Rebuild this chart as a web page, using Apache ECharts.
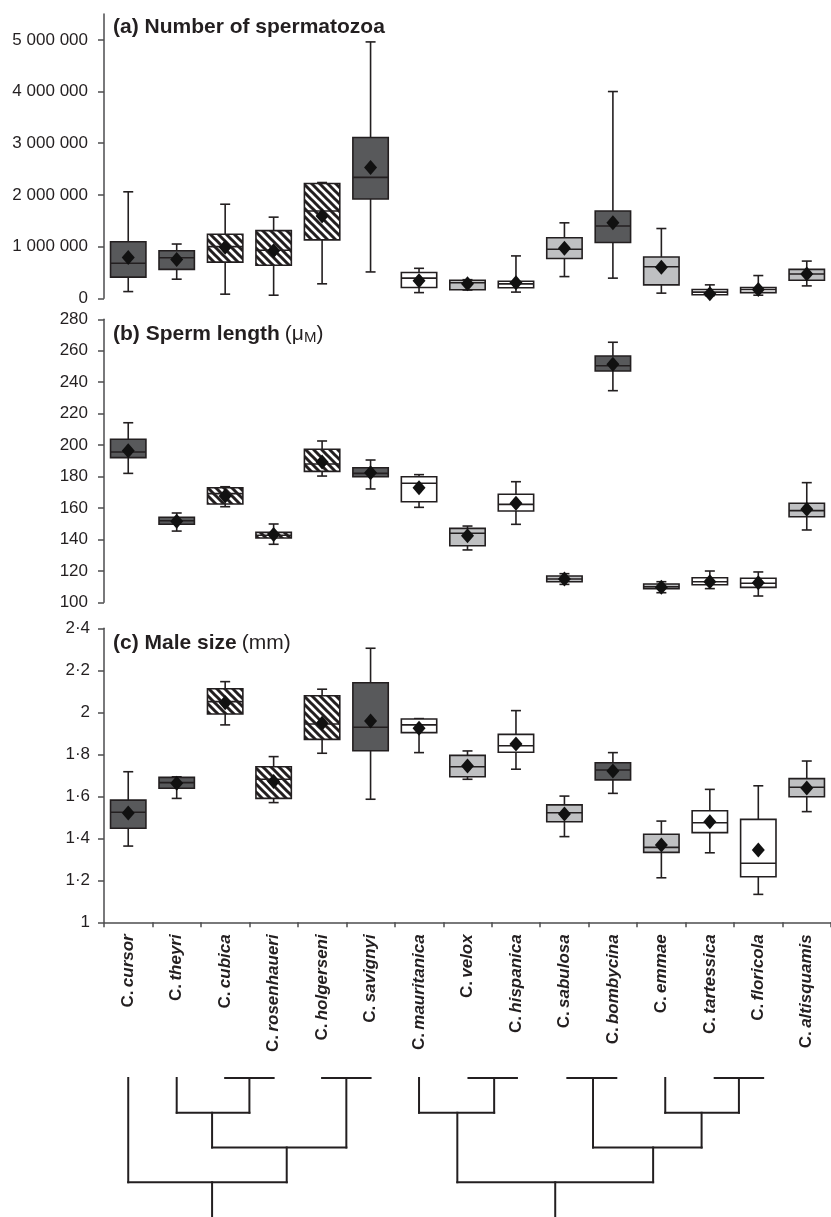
<!DOCTYPE html>
<html>
<head>
<meta charset="utf-8">
<script src="https://cdn.jsdelivr.net/npm/echarts@6/dist/echarts.min.js"></script>
<style>
html,body{margin:0;padding:0;background:#fff;}
#chart{width:831px;height:1217px;}
</style>
</head>
<body>
<div id="chart"></div>
<script>
// ---------- DATA ----------
const species = ['C. cursor','C. theyri','C. cubica','C. rosenhaueri','C. holgerseni','C. savignyi','C. mauritanica','C. velox','C. hispanica','C. sabulosa','C. bombycina','C. emmae','C. tartessica','C. floricola','C. altisquamis'];

// [low whisker, Q1, median, Q3, high whisker]
const spermNumber = [
  [130000, 410000, 677000, 1095000, 2060000],
  [370000, 560000, 785000, 920000, 1050000],
  [80000, 700000, 1000000, 1240000, 1820000],
  [60000, 640000, 930000, 1310000, 1570000],
  [280000, 1130000, 1690000, 2220000, 2240000],
  [510000, 1920000, 2340000, 3110000, 4960000],
  [110000, 210000, 390000, 500000, 580000],
  [160000, 165000, 300000, 350000, 360000],
  [120000, 205000, 280000, 330000, 820000],
  [420000, 770000, 950000, 1170000, 1460000],
  [390000, 1080000, 1400000, 1690000, 4000000],
  [100000, 260000, 610000, 800000, 1350000],
  [50000, 70000, 120000, 170000, 260000],
  [60000, 110000, 170000, 210000, 440000],
  [240000, 350000, 470000, 560000, 720000]
];
const spermNumberMean = [790000, 750000, 990000, 920000, 1590000, 2530000, 340000, 280000, 300000, 970000, 1460000, 600000, 90000, 170000, 470000];

const spermLength = [
  [182.0, 192.0, 195.6, 203.7, 214.2],
  [145.3, 149.6, 151.9, 154.1, 156.8],
  [160.8, 162.5, 169.1, 172.9, 173.5],
  [136.9, 140.9, 142.6, 144.5, 149.8],
  [180.3, 183.3, 188.0, 197.3, 202.6],
  [172.1, 179.9, 182.0, 185.6, 190.5],
  [160.4, 164.0, 175.7, 179.9, 181.2],
  [133.3, 136.0, 143.9, 147.0, 148.5],
  [149.6, 158.1, 162.3, 168.7, 176.7],
  [111.4, 113.1, 114.8, 116.7, 118.2],
  [234.6, 247.1, 250.5, 256.7, 265.4],
  [106.1, 108.7, 109.9, 111.6, 113.1],
  [108.7, 111.2, 113.1, 115.6, 119.9],
  [104.0, 109.5, 112.1, 115.3, 119.3],
  [146.0, 154.4, 158.3, 163.0, 176.1]
];
const spermLengthMean = [196.4, 151.5, 167.6, 143.2, 189.2, 182.4, 172.9, 142.4, 163.0, 114.8, 251.4, 109.5, 113.1, 112.5, 159.2];

const maleSize = [
  [1.363, 1.448, 1.524, 1.582, 1.717],
  [1.590, 1.638, 1.665, 1.690, 1.693],
  [1.940, 1.992, 2.051, 2.112, 2.146],
  [1.570, 1.590, 1.681, 1.741, 1.789],
  [1.805, 1.871, 1.944, 2.079, 2.110],
  [1.586, 1.817, 1.929, 2.141, 2.305],
  [1.808, 1.903, 1.940, 1.968, 1.970],
  [1.681, 1.693, 1.741, 1.795, 1.816],
  [1.729, 1.810, 1.841, 1.895, 2.008],
  [1.408, 1.479, 1.522, 1.559, 1.601],
  [1.614, 1.678, 1.725, 1.760, 1.808],
  [1.212, 1.333, 1.357, 1.419, 1.482],
  [1.331, 1.427, 1.474, 1.531, 1.633],
  [1.133, 1.217, 1.281, 1.490, 1.650],
  [1.527, 1.598, 1.643, 1.684, 1.768]
];
const maleSizeMean = [1.520, 1.662, 2.046, 1.670, 1.948, 1.959, 1.924, 1.744, 1.849, 1.516, 1.720, 1.368, 1.479, 1.344, 1.640];

const tickA = [0, 1000000, 2000000, 3000000, 4000000, 5000000];

// phylogeny segments: [x1 (species index), depth1, x2, depth2]
const treeSegments = [
  [0, 0, 0, 3], [1, 0, 1, 1], [2, 0, 3, 0], [2.5, 0, 2.5, 1], [1, 1, 2.5, 1],
  [1.73, 1, 1.73, 2], [4, 0, 5, 0], [4.5, 0, 4.5, 2], [1.73, 2, 4.5, 2],
  [3.27, 2, 3.27, 3], [0, 3, 3.27, 3], [1.73, 3, 1.73, 4],
  [6, 0, 6, 1], [7.02, 0, 8.02, 0], [7.55, 0, 7.55, 1], [6, 1, 7.55, 1],
  [6.79, 1, 6.79, 3], [9.06, 0, 10.07, 0], [9.59, 0, 9.59, 2],
  [11.08, 0, 11.08, 1], [12.1, 0, 13.1, 0], [12.6, 0, 12.6, 1], [11.08, 1, 12.6, 1],
  [11.83, 1, 11.83, 2], [9.59, 2, 11.83, 2], [10.83, 2, 10.83, 3],
  [6.79, 3, 10.83, 3], [8.81, 3, 8.81, 4]
];

// fill style per species (style mapping)
const fillType = ['dark','dark','hatch','hatch','hatch','dark','white','light','white','light','dark','light','white','white','light'];

// ---------- STYLE ----------
const INK = '#231f20';
const FONT = '"Liberation Sans", Arial, Helvetica, sans-serif';

function makeHatch() {
  const s = 8;
  const c = document.createElement('canvas');
  c.width = s; c.height = s;
  const g = c.getContext('2d');
  g.fillStyle = '#fff'; g.fillRect(0, 0, s, s);
  g.strokeStyle = INK; g.lineWidth = 3; g.lineCap = 'square';
  g.beginPath();
  g.moveTo(-2, -2); g.lineTo(s + 2, s + 2);
  g.moveTo(-2, s - 2); g.lineTo(2, s + 2);
  g.moveTo(s - 2, -2); g.lineTo(s + 2, 2);
  g.stroke();
  return c;
}
const fills = {
  dark: '#58595b',
  light: '#bfc0c2',
  white: '#ffffff',
  hatch: { image: makeHatch(), repeat: 'repeat' }
};

function boxRender(params, api) {
  const i = api.value(0);
  const lo = api.coord([i, api.value(1)]);
  const q1 = api.coord([i, api.value(2)]);
  const md = api.coord([i, api.value(3)]);
  const q3 = api.coord([i, api.value(4)]);
  const hi = api.coord([i, api.value(5)]);
  const bw = api.size([1, 0])[0] * 0.73;
  const cap = 5;
  const x = lo[0];
  const ls = { stroke: INK, lineWidth: 1.6 };
  return {
    type: 'group',
    children: [
      { type: 'line', shape: { x1: x, y1: hi[1], x2: x, y2: q3[1] }, style: ls },
      { type: 'line', shape: { x1: x, y1: q1[1], x2: x, y2: lo[1] }, style: ls },
      { type: 'line', shape: { x1: x - cap, y1: hi[1], x2: x + cap, y2: hi[1] }, style: ls },
      { type: 'line', shape: { x1: x - cap, y1: lo[1], x2: x + cap, y2: lo[1] }, style: ls },
      { type: 'rect', shape: { x: x - bw / 2, y: q3[1], width: bw, height: q1[1] - q3[1] },
        style: { fill: fills[fillType[i]], stroke: INK, lineWidth: 1.6 } },
      { type: 'line', shape: { x1: x - bw / 2, y1: md[1], x2: x + bw / 2, y2: md[1] }, style: ls }
    ]
  };
}

function treeRender(params, api) {
  const p1 = api.coord([api.value(0), api.value(1)]);
  const p2 = api.coord([api.value(2), api.value(3)]);
  return { type: 'line', shape: { x1: p1[0], y1: p1[1], x2: p2[0], y2: p2[1] },
    style: { stroke: INK, lineWidth: 2, lineCap: 'square' } };
}

const boxData = arr => arr.map((r, i) => [i].concat(r));
const meanData = arr => arr.map((v, i) => [i, v]);

const LEFT = 104, WIDTH = 736.5;
const grids = [
  { left: LEFT, width: WIDTH, top: 14, height: 284.3 },
  { left: LEFT, width: WIDTH, top: 319.3, height: 283 },
  { left: LEFT, width: WIDTH, top: 628.3, height: 294 },
  { left: LEFT, width: WIDTH, top: 1078, height: 140 }
];

const axisLineStyle = { show: true, lineStyle: { color: '#4d4d4f', width: 1.5 } };
const yLabel = { color: INK, fontSize: 17, fontFamily: FONT, margin: 16 };
const yTick = { show: true, length: 6, lineStyle: { color: '#4d4d4f', width: 1.5 } };

const fmtA = v => String(Math.round(v)).replace(/\B(?=(\d{3})+(?!\d))/g, ' ');
const fmtC = v => String(+(+v).toFixed(1)).replace('.', '·');

const xHidden = gi => ({ type: 'category', gridIndex: gi, data: species, show: false, boundaryGap: true });

const bold = { fontFamily: FONT, fontSize: 21, fontWeight: 'bold', color: INK };
const normal = { fontFamily: FONT, fontSize: 21, fontWeight: 'normal', color: INK };
const meanStyle = { color: '#111', opacity: 1 };

const option = {
  animation: false,
  backgroundColor: '#fff',
  title: [
    { left: 108, top: 12, text: '{b|(a) Number of spermatozoa}',
      textStyle: { rich: { b: bold } } },
    { left: 108, top: 319, text: '{b|(b) Sperm length} {n|(μ}{s|M}{n|)}',
      textStyle: { fontWeight: 'normal', rich: {
        b: bold, n: normal,
        s: { fontFamily: FONT, fontSize: 15, fontWeight: 'normal', color: INK, verticalAlign: 'bottom' } } } },
    { left: 108, top: 628, text: '{b|(c) Male size} {n|(mm)}',
      textStyle: { fontWeight: 'normal', rich: { b: bold, n: normal } } }
  ],
  grid: grids,
  xAxis: [
    xHidden(0), xHidden(1),
    { type: 'category', gridIndex: 2, data: species, boundaryGap: true,
      axisLine: { show: true, lineStyle: { color: '#4d4d4f', width: 1.5 } },
      axisTick: { show: true, length: 5, lineStyle: { color: '#4d4d4f', width: 1.5 } },
      axisLabel: {
        interval: 0, rotate: 90, margin: 12,
        formatter: v => '{n|C.} {i|' + v.replace(/^C\.\s*/, '') + '}',
        rich: {
          n: { fontFamily: FONT, fontSize: 17, fontWeight: 'bold', color: INK },
          i: { fontFamily: FONT, fontSize: 17, fontWeight: 'bold', fontStyle: 'italic', color: INK }
        }
      } },
    { type: 'value', gridIndex: 3, min: -0.5, max: 14.5, show: false }
  ],
  yAxis: [
    { type: 'value', gridIndex: 0, min: 0, max: 5500000, interval: 1000000,
      axisLine: axisLineStyle, splitLine: { show: false },
      axisTick: Object.assign({ customValues: tickA }, yTick),
      axisLabel: Object.assign({ customValues: tickA, formatter: fmtA }, yLabel) },
    { type: 'value', gridIndex: 1, min: 100, max: 280, interval: 20,
      axisLine: axisLineStyle, splitLine: { show: false }, axisTick: yTick,
      axisLabel: yLabel },
    { type: 'value', gridIndex: 2, min: 1, max: 2.4, interval: 0.2,
      axisLine: axisLineStyle, splitLine: { show: false }, axisTick: yTick,
      axisLabel: Object.assign({ formatter: fmtC }, yLabel, { margin: 14 }) },
    { type: 'value', gridIndex: 3, min: 0, max: 4, inverse: true, show: false }
  ],
  series: [
    { type: 'custom', xAxisIndex: 0, yAxisIndex: 0, renderItem: boxRender, data: boxData(spermNumber),
      encode: { x: 0, y: [1, 2, 3, 4, 5] }, clip: false },
    { type: 'scatter', xAxisIndex: 0, yAxisIndex: 0, data: meanData(spermNumberMean),
      symbol: 'diamond', symbolSize: [13, 15], itemStyle: meanStyle, z: 5 },
    { type: 'custom', xAxisIndex: 1, yAxisIndex: 1, renderItem: boxRender, data: boxData(spermLength),
      encode: { x: 0, y: [1, 2, 3, 4, 5] }, clip: false },
    { type: 'scatter', xAxisIndex: 1, yAxisIndex: 1, data: meanData(spermLengthMean),
      symbol: 'diamond', symbolSize: [13, 15], itemStyle: meanStyle, z: 5 },
    { type: 'custom', xAxisIndex: 2, yAxisIndex: 2, renderItem: boxRender, data: boxData(maleSize),
      encode: { x: 0, y: [1, 2, 3, 4, 5] }, clip: false },
    { type: 'scatter', xAxisIndex: 2, yAxisIndex: 2, data: meanData(maleSizeMean),
      symbol: 'diamond', symbolSize: [13, 15], itemStyle: meanStyle, z: 5 },
    { type: 'custom', xAxisIndex: 3, yAxisIndex: 3, renderItem: treeRender, data: treeSegments,
      encode: { x: [0, 2], y: [1, 3] }, clip: false }
  ]
};

const chart = echarts.init(document.getElementById('chart'), null, { renderer: 'canvas' });
chart.setOption(option);
</script>
</body>
</html>
